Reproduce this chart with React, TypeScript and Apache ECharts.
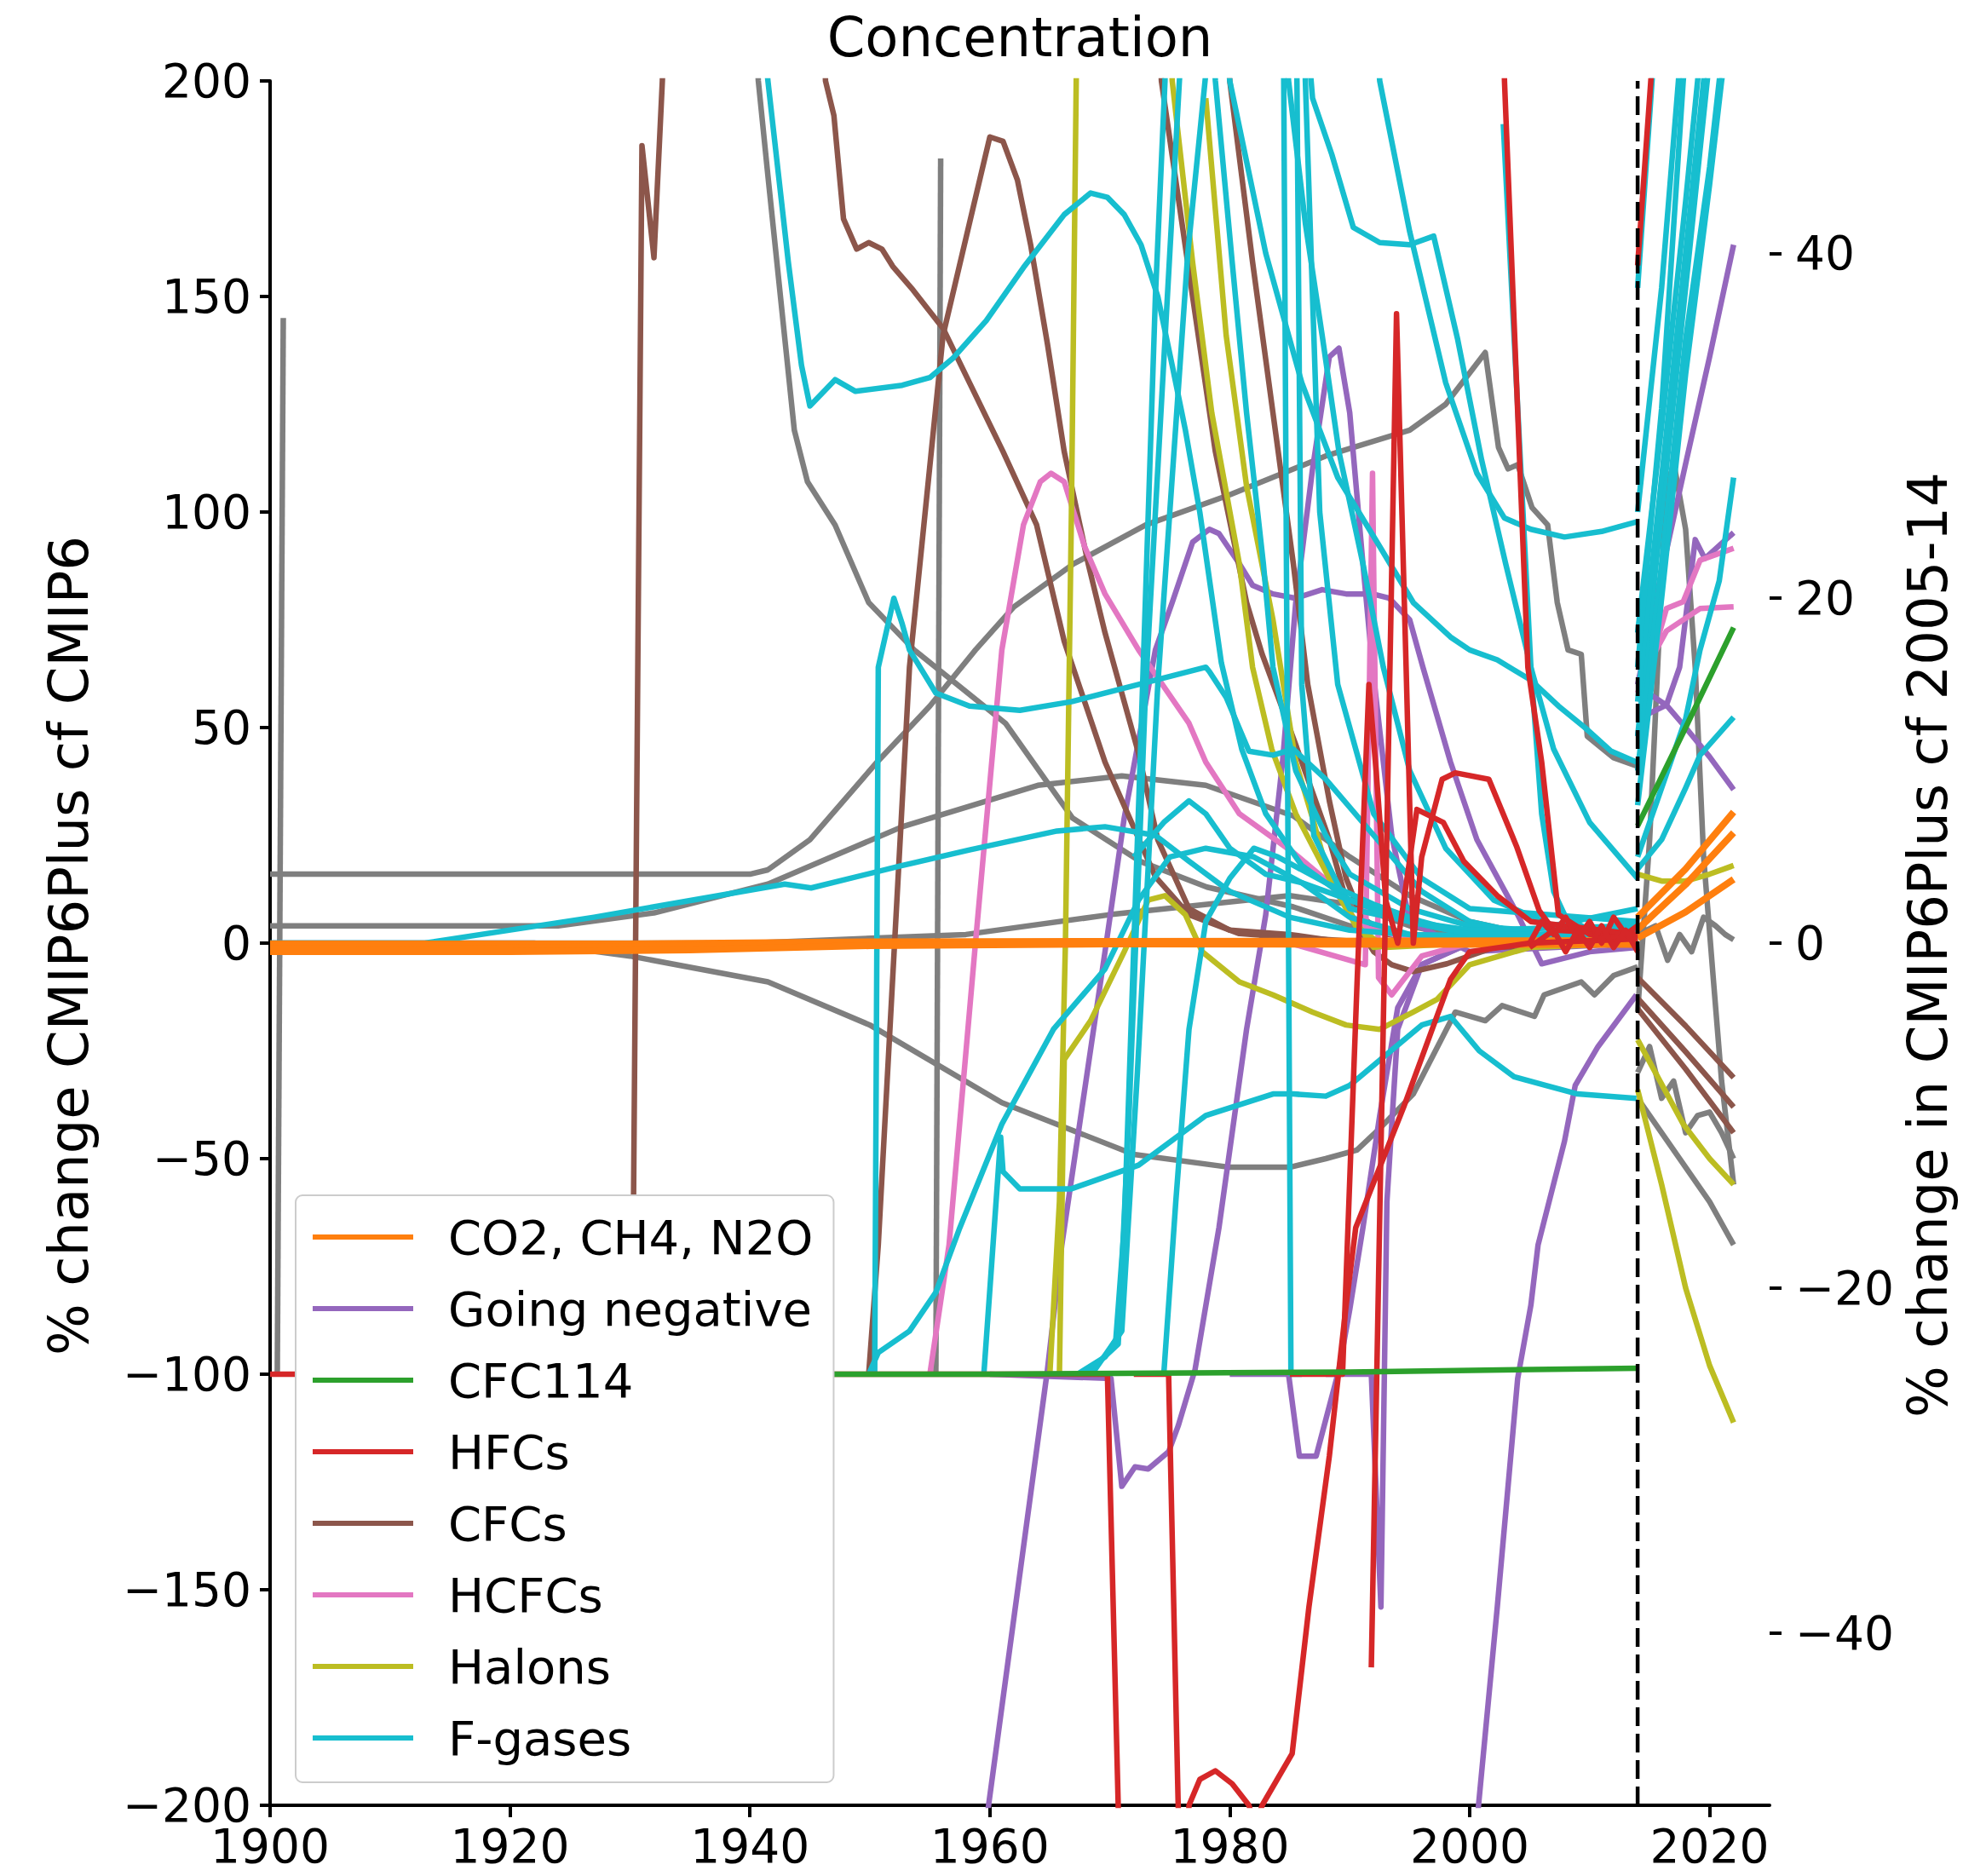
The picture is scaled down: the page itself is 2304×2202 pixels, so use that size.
import React, { useEffect, useRef } from "react";
import * as echarts from "echarts";

// ---------- axis ticks ----------
const X_TICKS = [1900, 1920, 1940, 1960, 1980, 2000, 2020];
const RIGHT_TICKS = [-40, -20, 0, 20, 40];
const CUT_YEAR = 2014;

// ---------- group names / colours ----------
const GROUPS = ["CO2, CH4, N2O", "Going negative", "CFC114", "HFCs", "CFCs", "HCFCs", "Halons", "F-gases"];
const OTHER = "Other";
const COLORS: Record<string, string> = {
  "CO2, CH4, N2O": "#ff7f0e",
  "Going negative": "#9467bd",
  CFC114: "#2ca02c",
  HFCs: "#d62728",
  CFCs: "#8c564b",
  HCFCs: "#e377c2",
  Halons: "#bcbd22",
  "F-gases": "#17becf",
  Other: "#7f7f7f",
};

// ---------- Other (grey) : left axis, % change CMIP6Plus cf CMIP6 ----------
const GY_SPIKE = [[1900.6, -100], [1901.1, 145]];
const GY_A = [[1900, 16], [1940, 16], [1941.5, 17], [1945, 24], [1950.6, 42], [1955, 55], [1958.8, 68], [1962, 78], [1967, 88], [1973, 97], [1980, 104], [1988, 113], [1995, 119], [1998, 125], [2001.3, 137], [2002.4, 115], [2003.2, 110], [2004, 111], [2005.2, 101], [2006.5, 97], [2007.3, 79], [2008.2, 68], [2009.3, 67], [2009.8, 48], [2012, 43], [2014, 41]];
const GY_B = [[1900, 4], [1924, 4], [1932, 7], [1941.5, 13.7], [1952.7, 27], [1964, 36.6], [1971, 38.8], [1978, 36.6], [1985.3, 29.5], [1990, 20], [1995, 11], [2000, 5], [2005, 2], [2014, 1]];
const GY_C = [[1900, 0], [1922, 0], [1930, -3], [1941.5, -9], [1950, -19], [1961, -37], [1972, -49], [1980, -52], [1985, -52], [1988, -50], [1990.6, -48], [1992.5, -43], [1995.3, -35], [1998.8, -16], [2001.3, -18], [2002.7, -14.5], [2005.4, -17], [2006.2, -12], [2009.3, -9], [2010.4, -12], [2012, -7.5], [2014, -5.5]];
const GY_D = [[1939, 300], [1940.7, 200], [1941.5, 178], [1943.7, 119], [1944.8, 107], [1947.1, 97], [1949.9, 79], [1953.7, 68], [1961.3, 51], [1966.9, 29], [1972.5, 19], [1978.1, 13], [1985.3, 8.4], [1990, 4], [1995, 1], [2005, 0], [2014, 0]];
const GY_E = [[1900, 0], [1940, 0], [1958, 2], [1970, 6.6], [1985, 11], [1990, 9], [1995, 4], [2000, 1], [2014, 0]];
const GY_V = [[1955.5, -100], [1955.9, 182]];
// grey, right axis (% change cf 2005-14)
const GY_F1 = [[2014, -4], [2015, 6], [2016.4, 27], [2017.1, 27.5], [2018, 24], [2018.8, 16], [2019.5, 5], [2020.3, -2], [2021, -8], [2022, -14]];
const GY_F2 = [[2014, 0.5], [2015.5, 1], [2016.5, -1], [2017.5, 0.5], [2018.5, -0.5], [2019.5, 1.5], [2020.5, 1], [2021.3, 0.5], [2022, 0.2]];
const GY_F3 = [[2014, -7.5], [2015, -6], [2016, -9], [2017, -8], [2018, -11], [2019, -10], [2020, -9.8], [2021, -11], [2022, -12.5]];
const GY_F4 = [[2014, -9], [2016, -11], [2018, -13], [2020, -15], [2022, -17.5]];

// ---------- Going negative (purple) ----------
const PU_1 = [[1958.5, -240], [1959.7, -204], [1964.8, -99], [1966, -70], [1969.6, -2], [1971.2, 29], [1973.8, 68], [1975.2, 79], [1976.9, 93], [1978.3, 96], [1979.1, 95], [1980.8, 88], [1981.9, 83], [1983.6, 81], [1985.5, 80], [1987.7, 82], [1989.7, 81], [1991.9, 81], [1993.3, 80], [1995, 75], [1996.1, 64], [1998.4, 42], [2000.6, 24], [2004, 6.6], [2006, -4.8], [2010, -2], [2014, -1]];
const PU_2 = [[1960, -100], [1970.1, -101], [1971, -126], [1972.1, -121.5], [1973.2, -122], [1974.9, -118], [1975.7, -112], [1977.1, -99], [1979.1, -66], [1981.4, -20], [1983, 6.6], [1984.4, 42], [1985.5, 79], [1986.9, 110], [1988.3, 136], [1989.1, 138], [1990, 123], [1991.1, 88], [1991.9, 64], [1993.5, 25], [1995, 5], [2000, -2], [2014, 0]];
const PU_3 = [[1999.5, -250], [2000.6, -204], [2002.3, -154], [2004, -101], [2005.1, -84], [2005.7, -70], [2007.9, -46], [2008.8, -33], [2010.7, -24], [2013.9, -12]];
const PU_4 = [[1980, -100], [1984.9, -100], [1985.8, -119], [1987.2, -119], [1989.1, -99], [1990, -85], [1991.1, -66], [1992.5, -40], [1994, -15], [1996, -5], [2000, 0], [2014, 0]];
const PU_5 = [[1988, -100], [1991.8, -100], [1992.6, -154], [1993.1, -60], [1994, -20], [1996, -5], [2000, 0], [2014, 0]];
const PU_F1 = [[2014, 15], [2016, 21.5], [2018, 27.8], [2020, 34], [2022, 40.5]];
const PU_F2 = [[2014, 13], [2016.4, 13.8], [2017.5, 16], [2018.8, 23.4], [2019.6, 22.3], [2022, 23.8]];
const PU_F3 = [[2014, 14.9], [2016.4, 13.8], [2018, 12.5], [2020, 10.8], [2022, 8.9]];

// ---------- CFCs (brown) ----------
const BR_1 = [[1929.9, -100], [1930.3, -59], [1931, 185], [1932, 159], [1932.7, 200], [1934, 320], [1945, 320], [1946.3, 200], [1947, 192], [1947.8, 168], [1948.9, 161], [1949.9, 162.5], [1951, 161], [1951.9, 157], [1953.6, 151.5], [1956.1, 142.6], [1958.3, 130], [1961.1, 114], [1963.9, 97], [1966.2, 70], [1969.6, 42], [1973.8, 15.4], [1976.6, 6.6], [1980.8, 2.2], [1985.3, 1.3], [1990, 0.5], [2014, 0]];
const BR_3 = [[1949.9, -100], [1950.7, -70], [1953.3, 64], [1956.1, 141], [1958.3, 167], [1960, 187], [1961.1, 186], [1962.3, 177], [1963.4, 162], [1964.8, 139], [1966.2, 114], [1968.2, 88], [1969.6, 72], [1972.4, 44], [1974, 24], [1976.6, 8], [1980, 3], [1985, 2], [1990, 0], [2014, 0]];
const BR_4 = [[1973, 300], [1974.3, 200], [1976.9, 150], [1978.8, 114], [1981.4, 79], [1982.7, 67], [1985.5, 46], [1988.3, 24], [1990, 7], [1992, -2], [1993.5, -5], [1995.3, -6.6], [1998.1, -4.8], [2002, -1], [2014, 0]];
const BR_5 = [[1979, 300], [1980, 200], [1981.9, 158], [1983.6, 123], [1985.3, 88], [1986.5, 60], [1988.3, 33], [1989.7, 15], [1991, 6], [1993, 2], [2000, 0.5], [2014, 0.5]];
const BR_F1 = [[2014, -2], [2018, -4.8], [2022, -7.8]];
const BR_F2 = [[2014, -3.2], [2018, -6.3], [2022, -9.5]];
const BR_F3 = [[2014, -3.8], [2018, -7.3], [2022, -11]];

// ---------- HCFCs (pink) ----------
const PK_1 = [[1955, -100], [1956.6, -70], [1958.8, 0], [1961, 68], [1962.8, 97], [1964.2, 107], [1965.1, 109], [1966.2, 107], [1967.9, 92], [1969.6, 81], [1972.4, 68], [1976.6, 51], [1978, 42], [1980.8, 30], [1985.3, 21], [1988.3, 14], [1990.8, 4], [1995, 1], [2000, 0], [2014, 0]];
const PK_2 = [[1985, 0], [1991.3, -5], [1991.9, 109], [1992.4, -8], [1993.5, -12], [1996, -3], [2000, 0], [2014, 0.5]];
const PK_F1 = [[2014, 12], [2015, 16], [2016.4, 19.4], [2017.8, 19.8], [2019.2, 22.2], [2022, 22.9]];
const PK_F2 = [[2014, 14.5], [2015, 16.3], [2016.4, 18.1], [2019.2, 19.4], [2022, 19.5]];

// ---------- Halons (olive) ----------
const HL_1 = [[1965, -100], [1965.8, -60], [1966.3, 0], [1966.8, 100], [1967.2, 200], [1968, 350]];
const HL_2 = [[1965.8, -100], [1966.2, -27], [1968.4, -18], [1971.2, -2], [1973.2, 10], [1974.6, 11], [1976.3, 6.6], [1977.7, -2], [1980.8, -9], [1983.6, -12], [1986.9, -16], [1989.7, -19], [1992.5, -20], [1995.3, -16], [1997.3, -13], [2000, -5], [2005, -1], [2014, 0]];
const HL_3 = [[1974, 300], [1975.2, 200], [1976.9, 158], [1978.5, 123], [1980.8, 88], [1981.9, 64], [1983.5, 45], [1985.5, 30], [1988.3, 15], [1990.5, 4], [1993, -1], [2000, 0], [2014, 0]];
const HL_4 = [[1978, 196], [1979.7, 141], [1981.4, 106], [1983.6, 75], [1985.5, 42], [1986.9, 29], [1988.3, 15], [1990.5, 5], [1992, -1], [1995, 0], [2014, 0]];
const HL_F1 = [[2014, -5.6], [2017.8, -10.5], [2020, -12.5], [2022, -14]];
const HL_F2 = [[2014, -8.5], [2016, -14], [2018, -20], [2020, -24.5], [2022, -27.8]];
const HL_F3 = [[2014, 4], [2016, 3.6], [2018, 3.6], [2020, 4], [2022, 4.5]];

// ---------- HFCs (red) ----------
const RD_A = [[1900, -100], [1969.8, -100], [1970.7, -200], [1971, -240]];
const RD_B = [[1972, -100], [1974.9, -100], [1975.7, -200], [1976.1, -240], [1976.6, -200], [1977.5, -194], [1978.8, -192], [1980.2, -195], [1981.6, -200], [1982.1, -205], [1982.7, -200], [1985.2, -188], [1986.6, -154], [1988.3, -119], [1989.7, -84], [1990.5, -66], [1994.5, -38], [1998.4, -8.4], [2000, -2], [2005, 0], [2014, 1]];
const RD_C = [[1991.8, -168], [1993.9, 146], [1994.7, 64], [1995.3, 0], [1996, 20], [1997.7, 38], [1998.8, 39.5], [2001.6, 38], [2003.9, 22.5], [2005.8, 7.5], [2007, 3], [2014, 2]];
const RD_D = [[2002.5, 260], [2002.9, 200], [2004.85, 64], [2006, 42], [2007.4, 6.6], [2010, 2], [2014, 1]];
const RD_E = [[1985, -100], [1989.4, -100], [1990.6, -10], [1991.6, 60], [1992.2, 40], [1993, 10], [1994, 0], [1995.6, 31], [1997.8, 28], [1999.5, 19], [2002.3, 11], [2005.1, 5], [2014, 2]];
const RD_G = [[2005, 0], [2006, 5], [2007, 2], [2008, 6], [2009, 1], [2010, 5], [2011, 0], [2012, 6], [2013, 2], [2014, 4]];
const RD_H = [[2005, -1], [2007, 3], [2008, -2], [2009, 3], [2010, -1], [2011, 4], [2012, -1], [2013, 3], [2014, -2]];
const RD_F = [[2014, 39.3], [2015.2, 51], [2016, 60]];

// ---------- F-gases (cyan) ----------
const CY_1 = [[1900, 0], [1912.9, 0], [1927, 6], [1942.9, 13.7], [1945.1, 12.8], [1952.7, 18], [1958.3, 21.6], [1965.6, 26], [1969.6, 27], [1973.8, 25], [1976.6, 19], [1980, 12], [1985, 6], [1990, 3], [2000, 1], [2014, 2]];
const CY_2 = [[1939.5, 260], [1941.5, 200], [1943.2, 158], [1944.3, 134], [1945, 124.6], [1947.1, 130.7], [1948.8, 128], [1952.7, 129.4], [1955, 131.2], [1956.9, 135.6], [1959.7, 144.4], [1962.8, 156.7], [1966.2, 169], [1968.4, 174], [1969.8, 173], [1971.2, 169], [1972.6, 162], [1974, 150], [1975.2, 134], [1976.3, 119], [1977.5, 100], [1979.3, 65], [1981, 45], [1983, 30], [1986, 18], [1990, 10], [1995, 5], [2000, 2], [2014, 1]];
const CY_3 = [[1950.4, -100], [1950.7, 64], [1952, 80], [1952.7, 74], [1953.3, 68], [1955.5, 58], [1958.3, 55], [1962.5, 54], [1966.8, 56], [1972.4, 60], [1978, 64], [1978.3, 63], [1979.7, 57], [1981.6, 44.5], [1983.6, 43.6], [1985.3, 45], [1988, 38], [1992, 25], [1996, 12], [2000, 5], [2005, 2], [2014, 3]];
const CY_5 = [[1949.9, -100], [1950.7, -95], [1953.3, -90], [1955.5, -81], [1957.5, -66], [1961, -42], [1965.3, -20], [1969.6, -6], [1972.4, 10], [1975, 20], [1978, 22], [1982, 20], [1986, 14], [1990, 6], [1995, 2], [2014, 1]];
const CY_6 = [[1959.5, -100], [1960.9, -45], [1961.1, -53], [1962.5, -57], [1966.8, -57], [1972.4, -51.5], [1978, -40], [1983.6, -35], [1985.3, -35], [1988, -35.5], [1990, -33], [1993, -26], [1996, -19], [1998.4, -17], [2000.8, -25], [2003.7, -31], [2006.3, -33], [2009, -35], [2013.9, -36]];
const CY_7 = [[1967.3, -100], [1969.6, -96], [1970.5, -92], [1971.2, -66], [1972.5, 40], [1973.8, 150], [1974.6, 200], [1975.5, 320], [1984, 320], [1984.5, 200], [1985.1, -100], [1986, -100]];
const CY_8 = [[1968, -100], [1970.7, -93], [1971.6, -40], [1973, 60], [1975, 160], [1976.2, 220], [1977, 320], [1985, 320], [1985.6, 200], [1986, 60], [1987, 25], [1990, 8], [2000, 2], [2014, 1]];
const CY_9 = [[1968.5, -100], [1971, -90], [1972.3, -30], [1974, 60], [1976.5, 160], [1978.3, 210], [1979, 320], [1986, 320], [1986.3, 200], [1987.5, 100], [1989, 60], [1992, 30], [1996, 15], [2000, 8], [2014, 5]];
const CY_10 = [[1977, 300], [1978.8, 200], [1980.2, 158], [1981.4, 123], [1982.8, 88], [1983.6, 64], [1985.5, 40], [1988, 25], [1990, 16], [1995, 8], [2000, 4], [2005, 3], [2014, 8]];
const CY_11 = [[1983, 300], [1984.9, 200], [1986.3, 167], [1987.7, 141], [1989.1, 114], [1991.1, 88], [1992.8, 64], [1995, 40], [1998, 22], [2002, 10], [2007, 4], [2014, 3]];
const CY_A = [[1985, 260], [1986.9, 196], [1988.5, 183], [1990.3, 166], [1992.5, 162.5], [1995, 162], [1997, 164], [1999, 140], [2001, 112], [2003, 88], [2005.1, 64], [2007, 45], [2010, 28], [2014, 15]];
const CY_B = [[1990, 300], [1992.5, 200], [1995, 165], [1998, 130], [2000.6, 109], [2002.9, 98.6], [2005.1, 96], [2007.9, 94.2], [2011, 95.5], [2013.9, 97.7]];
const CY_C = [[1978, 260], [1980, 200], [1983, 160], [1986, 130], [1989, 108], [1992.5, 92], [1995.3, 79], [1998.4, 71], [2000, 68], [2002.3, 65.7], [2005.1, 61], [2007.4, 55], [2009.6, 50], [2011.8, 44.5], [2013.9, 42]];
const CY_M1 = [[1972, 20], [1974.5, 28], [1976.6, 33], [1978, 30], [1980, 22], [1983, 16], [1986, 14], [1990, 10], [1995, 5], [2000, 3], [2014, 4]];
const CY_M2 = [[1974.5, -100], [1975.5, -60], [1976.6, -20], [1978, 5], [1980, 15], [1982, 22], [1984, 20], [1988, 14], [1992, 9], [1996, 5], [2000, 2], [2014, 2]];
const CY_V = [[2002.8, 190], [2005.1, 64], [2006, 30], [2007, 12], [2008, 6], [2010, 3], [2014, 5]];
const CY_F1 = [[2014, 38], [2015.2, 50], [2016, 58]];
const CY_F2 = [[2014, 25], [2016, 38], [2017.4, 50], [2018, 56]];
const CY_F3 = [[2014, 18], [2016, 30], [2018, 43], [2019, 50], [2020, 57]];
const CY_F4 = [[2014, 12], [2016, 25], [2018, 38], [2019.8, 50], [2021, 58]];
const CY_F5 = [[2014, 10], [2016, 22], [2018, 35], [2020, 45], [2020.8, 50], [2022, 57]];
const CY_F6 = [[2014, 14], [2016, 27], [2018, 40], [2019.5, 50], [2020, 54]];
const CY_F7 = [[2014, 8], [2016, 20], [2018, 33], [2020, 44], [2021, 50], [2022, 55]];
const CY_F8 = [[2014, 16], [2016, 31], [2017.8, 50], [2018.5, 56]];
const CY_F9 = [[2014, 5], [2016, 9], [2018, 13], [2019.2, 17], [2020.8, 21], [2022, 27]];
const CY_F10 = [[2014, 4.3], [2016, 6], [2018, 9], [2019.2, 10.9], [2022, 13.1]];

// ---------- CFC114 (green) ----------
const GR_H = [[1910, -100], [1960, -100], [1990, -99.5], [2014, -98.6]];
const GR_F = [[2014, 6.8], [2018, 12.5], [2022, 18.3]];

// ---------- CO2, CH4, N2O (orange) ----------
const OR_H1 = [[1900, -0.2], [1930, -0.2], [1950, 0.3], [2014, 0.6]];
const OR_H2 = [[1900, -1.2], [1910, -1.5], [1925, -1], [1945, -0.3], [1960, 0], [2014, 0]];
const OR_H3 = [[1900, -2], [1920, -2], [1935, -1.6], [1950, -0.6], [1970, -0.2], [2014, -0.3]];
const OR_F1 = [[2014, 1.5], [2018, 4.3], [2022, 7.6]];
const OR_F2 = [[2014, 0.8], [2018, 3.4], [2022, 6.4]];
const OR_F3 = [[2014, 0.3], [2018, 1.8], [2022, 3.7]];

// [group, yAxisIndex (0 = left, 1 = right), data]
const LINES: [string, number, number[][]][] = [
  [OTHER, 0, GY_SPIKE], [OTHER, 0, GY_A], [OTHER, 0, GY_B], [OTHER, 0, GY_C], [OTHER, 0, GY_D], [OTHER, 0, GY_E], [OTHER, 0, GY_V],
  [OTHER, 1, GY_F1], [OTHER, 1, GY_F2], [OTHER, 1, GY_F3], [OTHER, 1, GY_F4],
  ["Going negative", 0, PU_1], ["Going negative", 0, PU_2], ["Going negative", 0, PU_3], ["Going negative", 0, PU_4], ["Going negative", 0, PU_5],
  ["Going negative", 1, PU_F1], ["Going negative", 1, PU_F2], ["Going negative", 1, PU_F3],
  ["CFCs", 0, BR_1], ["CFCs", 0, BR_3], ["CFCs", 0, BR_4], ["CFCs", 0, BR_5],
  ["CFCs", 1, BR_F1], ["CFCs", 1, BR_F2], ["CFCs", 1, BR_F3],
  ["HCFCs", 0, PK_1], ["HCFCs", 0, PK_2], ["HCFCs", 1, PK_F1], ["HCFCs", 1, PK_F2],
  ["Halons", 0, HL_1], ["Halons", 0, HL_2], ["Halons", 0, HL_3], ["Halons", 0, HL_4],
  ["Halons", 1, HL_F1], ["Halons", 1, HL_F2], ["Halons", 1, HL_F3],
  ["F-gases", 0, CY_1], ["F-gases", 0, CY_2], ["F-gases", 0, CY_3], ["F-gases", 0, CY_5], ["F-gases", 0, CY_6],
  ["F-gases", 0, CY_7], ["F-gases", 0, CY_8], ["F-gases", 0, CY_9], ["F-gases", 0, CY_10], ["F-gases", 0, CY_11],
  ["F-gases", 0, CY_A], ["F-gases", 0, CY_B], ["F-gases", 0, CY_C], ["F-gases", 0, CY_M1], ["F-gases", 0, CY_M2], ["F-gases", 0, CY_V],
  ["F-gases", 1, CY_F1], ["F-gases", 1, CY_F2], ["F-gases", 1, CY_F3], ["F-gases", 1, CY_F4], ["F-gases", 1, CY_F5],
  ["F-gases", 1, CY_F6], ["F-gases", 1, CY_F7], ["F-gases", 1, CY_F8], ["F-gases", 1, CY_F9], ["F-gases", 1, CY_F10],
  ["CFC114", 0, GR_H], ["CFC114", 1, GR_F],
  ["CO2, CH4, N2O", 0, OR_H1], ["CO2, CH4, N2O", 0, OR_H2], ["CO2, CH4, N2O", 0, OR_H3],
  ["CO2, CH4, N2O", 1, OR_F1], ["CO2, CH4, N2O", 1, OR_F2], ["CO2, CH4, N2O", 1, OR_F3],
  ["HFCs", 0, RD_A], ["HFCs", 0, RD_B], ["HFCs", 0, RD_C], ["HFCs", 0, RD_D], ["HFCs", 0, RD_E], ["HFCs", 0, RD_G], ["HFCs", 0, RD_H],
  ["HFCs", 1, RD_F],
];

const FONT = "DejaVu Sans";
const fmtMinus = (v: number) => (v < 0 ? "\u2212" + Math.abs(v) : String(v));
const fmtPlain = (v: number) => String(v);

function buildOption() {
  const Z: Record<string, number> = { "CO2, CH4, N2O": 6, HFCs: 7, CFC114: 8 };
  const W: Record<string, number> = { "CO2, CH4, N2O": 8 };
  const series: any[] = LINES.map(([group, axis, data]) => ({
    type: "line",
    name: group,
    yAxisIndex: axis,
    data,
    symbol: "none",
    showSymbol: false,
    silent: true,
    clip: true,
    z: Z[group] ?? 2,
    lineStyle: { color: COLORS[group], width: W[group] ?? 6.5, cap: "butt", join: "round" },
    itemStyle: { color: COLORS[group] },
    emphasis: { disabled: true },
  }));
  series.push({
    type: "line",
    name: "cut",
    data: [[CUT_YEAR, -200], [CUT_YEAR, 200]],
    symbol: "none",
    silent: true,
    z: 9,
    lineStyle: { color: "#000", width: 4.5, type: [22, 9] },
    itemStyle: { color: "#000" },
  });

  const tickStyle = { color: "#000", width: 4 };
  return {
    animation: false,
    backgroundColor: "#fff",
    textStyle: { fontFamily: FONT },
    grid: { left: 317, right: 227, top: 95, bottom: 83, containLabel: false, outerBoundsMode: "none" },
    xAxis: {
      type: "value",
      min: 1900,
      max: 2025,
      axisLine: { show: true, onZero: false, lineStyle: { color: "#000", width: 4 } },
      axisTick: { show: true, length: 14, lineStyle: tickStyle, customValues: X_TICKS },
      axisLabel: { customValues: X_TICKS, fontSize: 55, color: "#000", fontFamily: FONT, margin: 20, formatter: fmtPlain },
      splitLine: { show: false },
    },
    yAxis: [
      {
        type: "value",
        position: "left",
        min: -200,
        max: 200,
        interval: 50,
        axisLine: { show: true, onZero: false, lineStyle: { color: "#000", width: 4 } },
        axisTick: { show: true, length: 12, lineStyle: tickStyle },
        axisLabel: { fontSize: 55, color: "#000", fontFamily: FONT, margin: 22, formatter: fmtMinus },
        splitLine: { show: false },
      },
      {
        type: "value",
        position: "right",
        min: -50,
        max: 50,
        axisLine: { show: false },
        axisTick: { show: true, length: 14, lineStyle: tickStyle, customValues: RIGHT_TICKS },
        axisLabel: { customValues: RIGHT_TICKS, fontSize: 55, color: "#000", fontFamily: FONT, margin: 30, formatter: fmtMinus },
        splitLine: { show: false },
      },
    ],
    legend: {
      show: true,
      orient: "vertical",
      left: 347,
      top: 1403,
      padding: [21, 24, 24, 20],
      itemWidth: 118,
      itemHeight: 6,
      itemGap: 28,
      selectedMode: false,
      backgroundColor: "#fff",
      borderColor: "#cccccc",
      borderWidth: 2,
      borderRadius: 8,
      z: 20,
      data: GROUPS.map((g) => ({ name: g, icon: "rect", itemStyle: { color: COLORS[g] } })),
      textStyle: { fontSize: 56, color: "#000", fontFamily: FONT, lineHeight: 56, padding: [0, 0, 0, 36] },
    },
    graphic: [
      {
        type: "text",
        x: 1197,
        y: 44,
        style: { text: "Concentration", fontSize: 64, fontFamily: FONT, fill: "#000", textAlign: "center", textVerticalAlign: "middle" },
      },
      {
        type: "text",
        x: 81,
        y: 1110,
        rotation: Math.PI / 2,
        style: { text: "% change CMIP6Plus cf CMIP6", fontSize: 64, fontFamily: FONT, fill: "#000", textAlign: "center", textVerticalAlign: "middle" },
      },
      {
        type: "text",
        x: 2263,
        y: 1109,
        rotation: Math.PI / 2,
        style: { text: "% change in CMIP6Plus cf 2005-14", fontSize: 64, fontFamily: FONT, fill: "#000", textAlign: "center", textVerticalAlign: "middle" },
      },
    ],
    series,
  };
}

export default function App() {
  const ref = useRef<HTMLDivElement>(null);
  useEffect(() => {
    if (!ref.current) return;
    const chart = echarts.init(ref.current, undefined, { renderer: "svg" });
    chart.setOption(buildOption() as any);
    return () => chart.dispose();
  }, []);
  return <div ref={ref} style={{ position: "absolute", left: 0, top: 0, width: 2304, height: 2202, background: "#fff" }} />;
}
